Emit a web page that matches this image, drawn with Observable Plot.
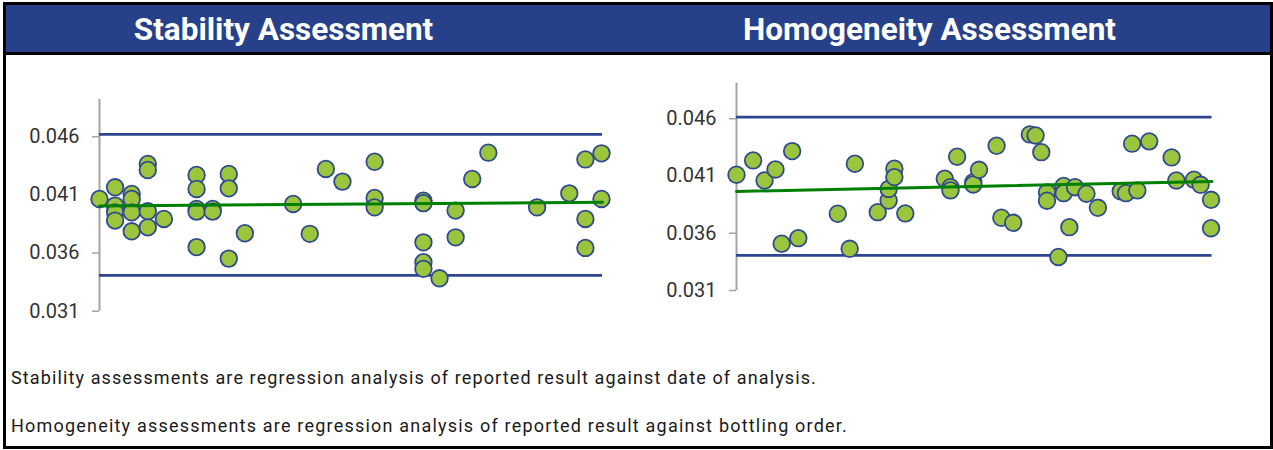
<!DOCTYPE html>
<html>
<head>
<meta charset="utf-8">
<script src="https://cdn.jsdelivr.net/npm/d3@7"></script>
<script src="https://cdn.jsdelivr.net/npm/@observablehq/plot@0.6"></script>
<style>
  html, body { margin: 0; padding: 0; background: #fff; }
  body { width: 1273px; height: 450px; position: relative; overflow: hidden; font-family: Roboto, "Noto Sans", sans-serif; }
  #frame { position: absolute; left: 3px; top: 2px; width: 1264px; height: 441px; border: 3px solid #000; }
  #header { position: absolute; left: 0; top: 0; width: 100%; height: 47px; background: #26418a; border-bottom: 3px solid #000; }
  .title { position: absolute; top: 1px; height: 47px; line-height: 47px; color: #fff; font-weight: 700; font-size: 31.5px; white-space: nowrap; transform: translateX(-50%); }
  .chart { position: absolute; top: 60px; }
  .caption { position: absolute; left: 11px; font-size: 18px; color: #1a1a1a; white-space: nowrap; line-height: 20px; }
  svg [aria-label="y-axis tick label"] { fill: #333; }
</style>
</head>
<body>
<div id="frame">
  <div id="header">
    <div class="title" style="left:277.5px">Stability Assessment</div>
    <div class="title" style="left:923.5px">Homogeneity Assessment</div>
  </div>
</div>
<div id="chart1" class="chart" style="left:0px"></div>
<div id="chart2" class="chart" style="left:640px"></div>
<div class="caption" data-w="806" style="top:368px">Stability assessments are regression analysis of reported result against date of analysis.</div>
<div class="caption" data-w="837" style="top:416px">Homogeneity assessments are regression analysis of reported result against bottling order.</div>
<script>
// Stability: x = relative date of analysis (0-100), y = reported result
const stabX = [0, 3.1, 3.1, 3.1, 3.1, 6.4, 6.4, 6.4, 6.4, 9.6, 9.6, 9.6, 9.6, 12.8,
  19.3, 19.3, 19.3, 19.3, 19.3, 22.5, 22.5, 25.7, 25.7, 25.7, 28.9, 38.5, 41.8, 45.0, 48.3,
  54.7, 54.7, 54.7, 64.4, 64.4, 64.4, 64.4, 64.4, 67.6, 70.8, 70.8, 74.1, 77.3, 87.0, 93.4,
  96.6, 96.6, 96.6, 99.8, 99.8];
const stabY = [0.04065, 0.04165, 0.04008, 0.0395, 0.03879, 0.04108, 0.04065, 0.0395, 0.03787,
  0.04366, 0.04314, 0.03959, 0.03821, 0.03893, 0.04271, 0.04151, 0.03979, 0.03956, 0.03651,
  0.03979, 0.03956, 0.0428, 0.04156, 0.03552, 0.0377, 0.04022, 0.03765, 0.04323, 0.04214,
  0.04385, 0.04074, 0.03993, 0.0405, 0.04029, 0.03692, 0.03521, 0.03464, 0.03383, 0.03965,
  0.03735, 0.04237, 0.04463, 0.03993, 0.04113, 0.04405, 0.03893, 0.03644, 0.04457, 0.04065];
const stabLimits = [0.0462, 0.03407];
const stabTrendX = [0, 100];
const stabTrendY = [0.04005, 0.04037];

// Homogeneity: x = relative bottling order (0-100), y = reported result
const homX = [0, 3.5, 5.9, 8.2, 9.5, 11.7, 13.0, 21.3, 23.8, 24.9, 29.7, 32.0, 32.0, 33.2, 33.2,
  35.5, 43.8, 45.0, 45.0, 46.4, 49.8, 49.8, 51.0, 54.7, 55.7, 58.2, 61.7, 62.9, 64.1, 65.3,
  65.3, 67.7, 68.8, 68.8, 70.0, 71.2, 73.6, 76.0, 80.8, 81.9, 84.3, 83.2, 86.8, 91.5, 92.5,
  96.2, 97.6, 99.8, 99.8];
const homY = [0.04111, 0.04236, 0.04061, 0.04157, 0.03508, 0.04317, 0.03557, 0.0377, 0.03464,
  0.04207, 0.03784, 0.03886, 0.03987, 0.04163, 0.0409, 0.03773, 0.04076, 0.04002, 0.03974,
  0.04268, 0.04046, 0.04026, 0.04154, 0.04364, 0.03735, 0.03691, 0.04463, 0.04454, 0.04308,
  0.03956, 0.03884, 0.03393, 0.04013, 0.0395, 0.03653, 0.04002, 0.03945, 0.03822, 0.03967,
  0.0395, 0.03974, 0.04382, 0.04402, 0.04262, 0.04061, 0.04067, 0.04023, 0.03892, 0.03644];
const homLimits = [0.04614, 0.03406];
const homTrendX = [0, 100];
const homTrendY = [0.03965, 0.04052];

const yTicks = [0.031, 0.036, 0.041, 0.046];

const DOT_FILL = "#9bc53d", DOT_STROKE = "#2f4a8e", LIMIT = "#2e4590", TREND = "#008000", AXIS = "#a3a3a3";

function chart({xs, ys, limits, trendX, trendY, yMax, width, height, mL, mR, mT, mB}) {
  const pts = xs.map((x, i) => ({x, y: ys[i]}));
  const trend = trendX.map((x, i) => ({x, y: trendY[i]}));
  return Plot.plot({
    width, height, marginLeft: mL, marginRight: mR, marginTop: mT, marginBottom: mB,
    style: {fontFamily: "Roboto, sans-serif", background: "transparent", overflow: "visible"},
    x: {domain: [0, 100], axis: null},
    y: {domain: [0.031, yMax]},
    marks: [
      Plot.ruleX([0], {y1: 0.031, y2: yMax, stroke: AXIS, strokeWidth: 2}),
      Plot.axisY({ticks: yTicks, tickFormat: d3.format(".3f"), tickSize: 7, tickPadding: 13, color: AXIS, fontSize: 20, strokeWidth: 1.5, label: null}),
      Plot.ruleY(limits, {x1: 0, x2: 100, stroke: LIMIT, strokeWidth: 2.75}),
      Plot.dot(pts, {x: "x", y: "y", r: 8.3, fill: DOT_FILL, stroke: DOT_STROKE, strokeWidth: 1.8, fillOpacity: 1}),
      Plot.line(trend, {x: "x", y: "y", stroke: TREND, strokeWidth: 3})
    ]
  });
}

document.getElementById("chart1").append(chart({
  xs: stabX, ys: stabY, limits: stabLimits, trendX: stabTrendX, trendY: stabTrendY, yMax: 0.0492,
  width: 640, height: 270, mL: 99, mR: 38, mT: 39, mB: 19.3
}));
document.getElementById("chart2").append(chart({
  xs: homX, ys: homY, limits: homLimits, trendX: homTrendX, trendY: homTrendY, yMax: 0.0491,
  width: 633, height: 270, mL: 96, mR: 61.5, mT: 22.7, mB: 40
}));

// fit caption widths to the reference text widths
document.querySelectorAll(".caption").forEach(el => {
  const target = +el.dataset.w;
  const n = el.textContent.length;
  const w = el.getBoundingClientRect().width;
  el.style.letterSpacing = ((target - w) / n) + "px";
});
</script>
</body>
</html>
